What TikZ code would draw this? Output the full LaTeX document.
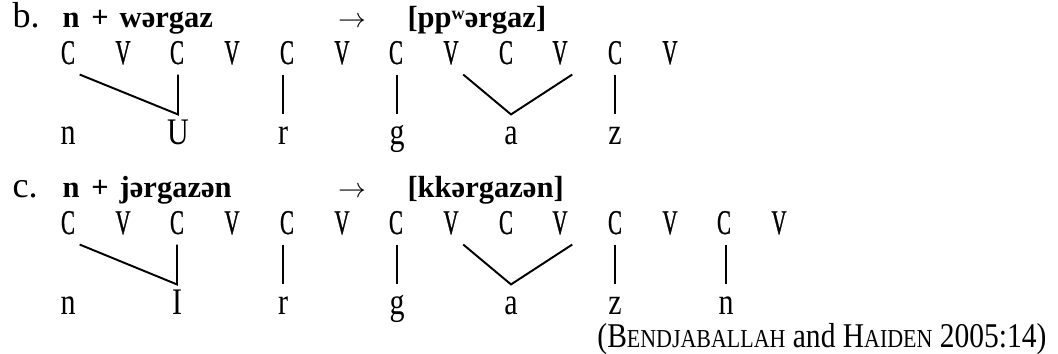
\documentclass[tikz,border=0pt]{standalone}
\usepackage{fontspec}
\setmainfont{Liberation Serif}
\newfontfamily\cvfont[FakeStretch=0.6, FakeBold=0.8]{Liberation Serif}
\newfontfamily\melfont[FakeStretch=0.8]{Liberation Serif}
\newfontfamily\srcfont[FakeStretch=0.85]{Liberation Serif}
\newcommand{\smcap}[1]{{\fontsize{9.3pt}{11pt}\selectfont #1}}
\newcommand{\labw}{\raisebox{3.2pt}{\fontsize{6.5pt}{7pt}\selectfont w}}
\tikzset{
  cv/.style={font=\fontsize{12.5pt}{14pt}\cvfont, anchor=base, inner xsep=1.5pt, inner ysep=3.6pt, text height=8pt, text depth=0pt},
  mel/.style={font=\fontsize{13.5pt}{15pt}\melfont, anchor=base, inner ysep=3.6pt, text height=7.2pt, text depth=0pt},
  form/.style={font=\fontsize{11pt}{13pt}\selectfont\bfseries, anchor=base west, inner sep=0pt},
  exlabel/.style={font=\fontsize{13pt}{15pt}\selectfont, anchor=base west, inner sep=0pt},
  assoc/.style={line width=0.7pt}
}
\begin{document}
\begin{tikzpicture}[x=0.36pt, y=-0.36pt]
    \useasboundingbox (0,0) rectangle (1058,354);
    % b. n + wergaz
    \node[exlabel] (blab) at (12,28) {b.};
    \node[form] (bin) at (62,28) {n\hspace{1.5pt} + \hspace{1.2pt}wərgaz};
    \node[anchor=base] (barr) at (352,28) {$\rightarrow$};
    \node[form] (bout) at (407,28) {[pp\labw ərgaz]};
    \node[cv] (b1) at (68,64) {C}; \node[cv] (b2) at (123,64) {V}; \node[cv] (b3) at (177,64) {C}; \node[cv] (b4) at (232,64) {V};
    \node[cv] (b5) at (287,64) {C}; \node[cv] (b6) at (342,64) {V}; \node[cv] (b7) at (396,64) {C}; \node[cv] (b8) at (451,64) {V};
    \node[cv] (b9) at (506,64) {C}; \node[cv] (b10) at (560,64) {V}; \node[cv] (b11) at (615,64) {C}; \node[cv] (b12) at (670,64) {V};
    \node[mel] (bn) at (68,145) {n}; \node[mel] (bu) at (178,145) {U}; \node[mel] (br) at (283,145) {r};
    \node[mel] (bg) at (397,145) {g}; \node[mel] (ba) at (511,145) {a}; \node[mel] (bz) at (615,145) {z};
    \draw[assoc] (b1.south east) -- (bu.north) -- (bu.north |- b3.south);
    \draw[assoc] (br.north |- b5.south) -- (br.north);
    \draw[assoc] (bg.north |- b7.south) -- (bg.north);
    \draw[assoc] (b8.south east) -- (ba.north) -- (b10.south east);
    \draw[assoc] (bz.north |- b11.south) -- (bz.north);
    % c. n + jergazen
    \node[exlabel] (clab) at (12,198) {c.};
    \node[form] (cin) at (62,198) {n\hspace{1.5pt} + \hspace{1.2pt}jərgazən};
    \node[anchor=base] (carr) at (352,198) {$\rightarrow$};
    \node[form] (cout) at (407,198) {[kkərgazən]};
    \node[cv] (c1) at (68,234) {C}; \node[cv] (c2) at (123,234) {V}; \node[cv] (c3) at (177,234) {C}; \node[cv] (c4) at (232,234) {V};
    \node[cv] (c5) at (287,234) {C}; \node[cv] (c6) at (342,234) {V}; \node[cv] (c7) at (396,234) {C}; \node[cv] (c8) at (451,234) {V};
    \node[cv] (c9) at (506,234) {C}; \node[cv] (c10) at (560,234) {V}; \node[cv] (c11) at (615,234) {C}; \node[cv] (c12) at (670,234) {V};
    \node[cv] (c13) at (724,234) {C}; \node[cv] (c14) at (779,234) {V};
    \node[mel] (cn) at (68,315) {n}; \node[mel] (ci) at (177,315) {I}; \node[mel] (cr) at (283,315) {r}; \node[mel] (cg) at (397,315) {g};
    \node[mel] (ca) at (511,315) {a}; \node[mel] (cz) at (615,315) {z}; \node[mel] (cnn) at (726,315) {n};
    \draw[assoc] (c1.south east) -- (ci.north) -- (ci.north |- c3.south);
    \draw[assoc] (cr.north |- c5.south) -- (cr.north);
    \draw[assoc] (cg.north |- c7.south) -- (cg.north);
    \draw[assoc] (c8.south east) -- (ca.north) -- (c10.south east);
    \draw[assoc] (cz.north |- c11.south) -- (cz.north);
    \draw[assoc] (cnn.north |- c13.south) -- (cnn.north);
    % source
    \node[anchor=base east, inner sep=0pt, font=\fontsize{12.5pt}{15pt}\srcfont] (src) at (1047,348) {(B\smcap{ENDJABALLAH} and H\smcap{AIDEN} 2005:14)};
\end{tikzpicture}
\end{document}
